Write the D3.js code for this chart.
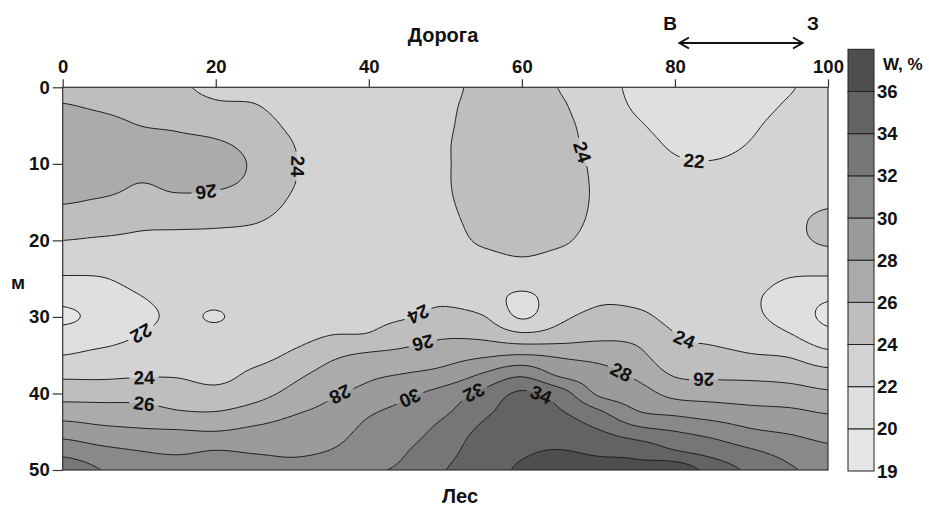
<!DOCTYPE html>
<html><head><meta charset="utf-8">
<script src="https://cdn.jsdelivr.net/npm/d3@7"></script>
<style>
body{margin:0;background:#fff}
text{font-family:"Liberation Sans",Arial,sans-serif;font-weight:bold;fill:#111}
</style>
</head><body>
<svg id="chart" width="929" height="510"></svg>
<script>
// grid nodes (distance along road, m; depth from road, m)
const xNodes = [0,5,10,15,20,25,30,35,40,45,50,55,60,65,70,75,80,85,90,95,100];
const yNodes = [0,2.5,5,7.5,10,12.5,15,17.5,20,22.5,25,27.5,30,32.5,35,37.5,40,42.5,45,47.5,50];
const w_x0   = [25.5,26.1,26.6,26.9,27.0,26.6,26.1,25.0,24.0,23.0,21.8,20.6,19.6,20.9,22.0,23.6,25.2,27.1,29.2,31.3,33.3];
const w_x5   = [25.3,25.8,26.5,26.9,27.0,26.6,25.8,24.9,23.8,23.0,21.9,21.0,20.6,21.2,22.5,23.6,25.2,26.9,28.6,30.5,32.0];
const w_x10  = [25.0,25.4,26.0,26.5,26.6,26.0,25.5,24.4,23.7,23.2,22.6,21.9,21.5,22.05,22.9,23.8,25.2,26.8,28.3,30.0,31.2];
const w_x15  = [24.3,24.9,25.8,26.3,26.5,26.3,25.6,24.4,23.6,23.2,22.9,22.5,22.3,22.6,23.0,23.8,25.0,26.2,28.2,29.7,31.0];
const w_x20  = [23.6,24.3,25.4,26.2,26.5,26.3,25.4,24.3,23.6,23.2,22.9,22.4,21.9,22.5,23.0,23.4,24.6,26.1,28.05,30.05,31.2];
const w_x25  = [23.6,24.1,24.8,25.5,25.8,25.6,24.9,24.1,23.5,23.2,23.0,22.8,22.6,22.8,23.3,24.4,25.3,26.8,28.5,29.8,31.0];
const w_x30  = [23.3,23.4,23.7,24.05,24.2,24.1,23.8,23.5,23.3,23.2,23.1,23.0,22.9,23.3,24.3,25.5,26.5,27.8,28.9,29.7,30.5];
const w_x35  = [23.2,23.2,23.2,23.1,23.1,23.1,23.1,23.1,23.1,23.1,23.1,23.1,23.3,24.05,25.6,26.7,27.7,28.6,29.3,30.05,30.9];
const w_x40  = [23.2,23.2,23.2,23.2,23.2,23.2,23.2,23.1,23.1,23.1,23.1,23.3,23.6,24.2,26.3,27.6,28.6,29.8,30.5,31.0,31.8];
const w_x45  = [23.4,23.4,23.4,23.4,23.4,23.4,23.4,23.3,23.3,23.2,23.2,23.4,23.9,25.2,26.6,28.1,29.6,30.7,31.3,31.95,32.3];
const w_x50  = [23.7,23.8,23.85,23.9,23.9,23.9,23.85,23.7,23.5,23.3,23.2,23.6,24.6,25.8,27.2,28.7,30.8,31.8,32.7,33.3,33.95];
const w_x55  = [24.3,24.4,24.5,24.6,24.6,24.6,24.5,24.4,24.2,23.6,23.0,22.8,24.1,25.6,27.7,30.2,32.5,33.6,34.5,35.1,35.3];
const w_x60  = [24.4,24.6,24.8,24.9,24.9,24.9,24.8,24.6,24.4,23.9,22.8,21.7,21.8,24.6,28.1,31.6,34.3,35.0,35.5,35.8,36.2];
const w_x65  = [23.95,24.2,24.4,24.5,24.6,24.6,24.6,24.5,24.2,23.6,23.0,22.8,23.6,25.0,27.7,29.6,32.9,34.2,35.1,36.05,36.6];
const w_x70  = [22.8,23.0,23.3,23.5,23.7,23.8,23.8,23.7,23.5,23.3,23.3,23.7,24.5,25.6,27.3,28.8,29.7,32.4,34.2,35.7,36.5];
const w_x75  = [21.6,21.8,22.2,22.6,22.9,23.1,23.2,23.2,23.2,23.2,23.2,23.6,24.4,25.5,26.5,27.6,28.9,30.2,32.8,35.4,36.4];
const w_x80  = [21.2,21.3,21.5,21.8,22.2,22.6,22.9,23.0,23.1,23.1,23.1,23.2,23.5,24.1,24.7,25.8,27.4,29.6,32.05,34.1,37.2];
const w_x85  = [21.0,21.1,21.3,21.6,22.1,22.6,22.9,23.0,23.1,23.1,23.0,23.0,23.2,23.6,24.5,25.6,27.2,29.05,31.3,33.2,35.1];
const w_x90  = [21.3,21.5,21.8,22.1,22.5,22.8,23.0,23.1,23.1,23.0,22.7,22.3,22.4,23.05,24.1,25.5,27.05,28.6,30.3,32.2,33.6];
const w_x95  = [21.9,22.2,22.6,22.9,23.1,23.2,23.4,23.6,23.5,23.0,21.95,21.1,21.2,22.2,23.8,25.3,26.8,28.4,29.8,31.3,32.2];
const w_x100 = [22.5,22.8,23.1,23.3,23.4,23.6,23.8,24.4,24.3,23.1,21.8,20.2,19.6,20.7,22.6,24.7,26.3,27.9,29.2,30.5,31.6];
const columns = [w_x0,w_x5,w_x10,w_x15,w_x20,w_x25,w_x30,w_x35,w_x40,w_x45,w_x50,
                 w_x55,w_x60,w_x65,w_x70,w_x75,w_x80,w_x85,w_x90,w_x95,w_x100];

// contour levels and legend
const levels = [19,20,22,24,26,28,30,32,34,36];
const bandColors = ["#e6e6e6","#dfdfdf","#d3d3d3","#bebebe","#ababab","#9b9b9b","#898989","#767676","#636363","#4e4e4e"];
const xTicks = [0,20,40,60,80,100];
const yTicks = [0,10,20,30,40,50];

// contour labels: value, approximate place (data units), reading direction (deg)
const labelVals  = [24,26,24,22,22,24,26,24,26,28,30,32,34,28,24,26];
const labelX     = [30.4,18.9,62.5,82.4,10.2,46.7,47.0,10.7,10.7,36.2,45.4,53.9,62.3,72.8,81.6,83.5];
const labelY     = [10.2,14.0,10.3,9.8,32.0,29.7,33.4,38.2,41.3,39.9,40.8,39.8,40.2,37.6,32.7,38.5];
const labelAngle = [95,180,80,0,150,160,170,0,0,150,160,155,30,25,20,180];

const svg = d3.select("#chart");
const PL=62.7, PR=828, PT=87.3, PB=470;
const x = d3.scaleLinear([0,100],[PL,PR]);
const y = d3.scaleLinear([0,50],[PT,PB]);

// smooth (Catmull-Rom) resampling of the grid for rendering
const F = 8, nx = xNodes.length, ny = yNodes.length;
const NX = (nx-1)*F+1, NY = (ny-1)*F+1;
const g = (i,j) => columns[Math.max(0,Math.min(nx-1,i))][Math.max(0,Math.min(ny-1,j))];
const cr = (p0,p1,p2,p3,t) => 0.5*(2*p1+(-p0+p2)*t+(2*p0-5*p1+4*p2-p3)*t*t+(-p0+3*p1-3*p2+p3)*t*t*t);
const values = new Float64Array(NX*NY);
for (let J=0; J<NY; J++) {
  let j = Math.floor(J/F), ty = J/F - j; if (j >= ny-1) { j = ny-2; ty = 1; }
  for (let I=0; I<NX; I++) {
    let i = Math.floor(I/F), tx = I/F - i; if (i >= nx-1) { i = nx-2; tx = 1; }
    const r = [-1,0,1,2].map(m => cr(g(i-1,j+m),g(i,j+m),g(i+1,j+m),g(i+2,j+m),tx));
    values[J*NX+I] = cr(r[0],r[1],r[2],r[3],ty);
  }
}
const xStep = (xNodes[nx-1]-xNodes[0])/(NX-1), yStep = (yNodes[ny-1]-yNodes[0])/(NY-1);
const toPx = p => [x(xNodes[0]+(p[0]-0.5)*xStep), y(yNodes[0]+(p[1]-0.5)*yStep)];
const proj = d3.geoTransform({point(px,py){ const q = toPx([px,py]); this.stream.point(q[0], q[1]); }});
const path = d3.geoPath(proj);
const contours = d3.contours().size([NX,NY]).thresholds(levels)(values);

const defs = svg.append("defs");
defs.append("clipPath").attr("id","plotclip").append("rect")
  .attr("x",PL).attr("y",PT).attr("width",PR-PL).attr("height",PB-PT);
const mask = defs.append("mask").attr("id","lblmask").attr("maskUnits","userSpaceOnUse")
  .attr("x",0).attr("y",0).attr("width",929).attr("height",510);
mask.append("rect").attr("width",929).attr("height",510).attr("fill","#fff");

const plot = svg.append("g").attr("clip-path","url(#plotclip)");
plot.append("rect").attr("x",PL).attr("y",PT).attr("width",PR-PL).attr("height",PB-PT).attr("fill",bandColors[0]);
plot.selectAll("path.band").data(contours).join("path").attr("class","band")
  .attr("d",path).attr("fill",(d,i)=>bandColors[i]).attr("stroke","none");
plot.append("g").attr("mask","url(#lblmask)")
  .selectAll("path.iso").data(contours.filter(c=>c.value>levels[0])).join("path").attr("class","iso")
  .attr("d",path).attr("fill","none").attr("stroke","#1e1e1e").attr("stroke-width",1);

// contour labels placed on the computed isolines
const lblG = svg.append("g");
labelVals.forEach((v,k) => {
  const c = contours.find(cc => cc.value === v);
  const target = [x(labelX[k]), y(labelY[k])];
  let best = null, bd = Infinity;
  c.coordinates.forEach(poly => poly.forEach(ring => {
    ring.forEach((p,idx) => {
      if (p[0] <= 0.6 || p[0] >= NX-0.6 || p[1] <= 0.6 || p[1] >= NY-0.6) return;
      const q = toPx(p), d = (q[0]-target[0])**2 + (q[1]-target[1])**2;
      if (d < bd) { bd = d; best = {ring, idx, q}; }
    });
  }));
  if (!best) return;
  const n = best.ring.length - 1;
  const a = toPx(best.ring[(best.idx-3+n)%n]), b = toPx(best.ring[(best.idx+3)%n]);
  let ang = Math.atan2(b[1]-a[1], b[0]-a[0])*180/Math.PI;
  const diff = t => { let d = ((t - labelAngle[k]) % 360 + 540) % 360 - 180; return Math.abs(d); };
  if (diff(ang+180) < diff(ang)) ang += 180;
  const tr = `translate(${best.q[0]},${best.q[1]}) rotate(${ang})`;
  const t = lblG.append("text").attr("transform",tr).attr("text-anchor","middle")
    .attr("dy","0.36em").attr("font-size",19).text(v);
  const w = t.node().getComputedTextLength();
  mask.append("rect").attr("transform",tr).attr("x",-w/2-4).attr("y",-9).attr("width",w+8).attr("height",18).attr("fill","#000");
});

// frame
svg.append("rect").attr("x",PL).attr("y",PT).attr("width",PR-PL).attr("height",PB-PT)
  .attr("fill","none").attr("stroke","#333").attr("stroke-width",1.2);

// axes
const ax = svg.append("g").attr("transform",`translate(0,${PT})`)
  .call(d3.axisTop(x).tickValues(xTicks).tickSize(8).tickPadding(6).tickFormat(d3.format("d")));
const ay = svg.append("g").attr("transform",`translate(${PL},0)`)
  .call(d3.axisLeft(y).tickValues(yTicks).tickSize(10).tickPadding(3).tickFormat(d3.format("d")));
[ax,ay].forEach(a => {
  a.select(".domain").remove();
  a.selectAll("line").attr("stroke","#333").attr("stroke-width",1.2);
  a.selectAll("text").attr("font-size",18.5).attr("font-family",null).attr("fill","#111");
});

// titles
svg.append("text").attr("x",443).attr("y",42).attr("text-anchor","middle").attr("font-size",20).text("Дорога");
svg.append("text").attr("x",460).attr("y",503).attr("text-anchor","middle").attr("font-size",20).text("Лес");
svg.append("text").attr("x",18).attr("y",289).attr("text-anchor","middle").attr("font-size",19).text("м");
svg.append("text").attr("x",670).attr("y",30).attr("text-anchor","middle").attr("font-size",19).text("В");
svg.append("text").attr("x",813).attr("y",30).attr("text-anchor","middle").attr("font-size",19).text("З");
const arr = svg.append("g").attr("fill","none").attr("stroke","#111").attr("stroke-width",2);
arr.append("line").attr("x1",680).attr("x2",802).attr("y1",43).attr("y2",43);
arr.append("polyline").attr("points","689,37.5 679.5,43 689,48.5");
arr.append("polyline").attr("points","793,37.5 802.5,43 793,48.5");

// colour bar
const cbX = 848, cbW = 26;
const cb = d3.scaleLinear([0, levels.length],[471, 49.3]);
const cbG = svg.append("g");
cbG.selectAll("rect").data(bandColors).join("rect")
  .attr("x",cbX).attr("width",cbW)
  .attr("y",(d,i)=>cb(i+1)).attr("height",(d,i)=>cb(i)-cb(i+1))
  .attr("fill",d=>d).attr("stroke","#222").attr("stroke-width",1);
cbG.selectAll("text").data(levels).join("text")
  .attr("x",cbX+cbW+3).attr("y",(d,i)=>cb(i)).attr("dy","0.36em").attr("font-size",18.5).text(d=>d);
svg.append("text").attr("x",883).attr("y",64).attr("dy","0.36em").attr("font-size",17).text("W, %");
</script>
</body></html>
